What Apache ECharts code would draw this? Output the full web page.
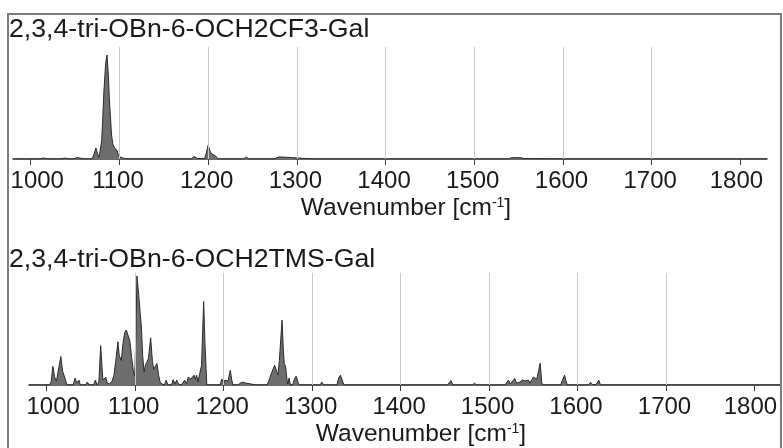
<!DOCTYPE html>
<html>
<head>
<meta charset="utf-8">
<title>Raman spectra</title>
<script src="https://cdn.jsdelivr.net/npm/echarts@6/dist/echarts.min.js"></script>
<style>
  html, body { margin: 0; padding: 0; background: #fff; }
  #chart { width: 783px; height: 448px; }
</style>
</head>
<body>
<div id="chart"></div>
<script>
// Spectrum titles
const titleTop = '2,3,4-tri-OBn-6-OCH2CF3-Gal';
const titleBottom = '2,3,4-tri-OBn-6-OCH2TMS-Gal';

// Axis tick labels and grid positions (cm-1)
const tickValues = [1000, 1100, 1200, 1300, 1400, 1500, 1600, 1700, 1800];
const gridValues = [1100, 1200, 1300, 1400, 1500, 1600, 1700];
const xMin = 980;
const xMax = 1830;

// 2,3,4-tri-OBn-6-OCH2CF3-Gal: wavenumber (cm-1) / intensity (a.u.)
const cf3Wavenumber = [
  980, 1010, 1014, 1016, 1020, 1021, 1023, 1026, 1027, 1029, 1032, 1033, 1035,
  1037, 1038, 1040, 1044, 1046, 1048, 1050, 1052, 1054, 1061, 1063, 1065,
  1069, 1071, 1073.5, 1075, 1077, 1078.5, 1080, 1082.5, 1084.5, 1086, 1087.5,
  1088.5, 1090, 1091, 1092.5, 1094.5, 1097, 1098.5, 1100, 1101, 1103, 1105,
  1107, 1113, 1115, 1117, 1156, 1158, 1160, 1181, 1184, 1186, 1188, 1196,
  1198, 1200, 1202, 1204, 1206, 1208.5, 1211, 1240, 1243, 1246, 1275, 1277,
  1279, 1281, 1283, 1285, 1320, 1322, 1324, 1337, 1339, 1341, 1373, 1375,
  1377, 1422, 1424, 1426, 1467, 1469, 1471, 1495, 1497, 1499, 1521, 1523,
  1525, 1538, 1541, 1544, 1547, 1549, 1551, 1553, 1556, 1558, 1606, 1608,
  1610, 1613, 1615, 1617, 1653, 1655, 1657, 1736, 1738, 1740, 1830
];
const cf3Intensity = [
  0, 0, 1, 0, 0, 1, 0, 0, 1, 0, 0, 1, 0,
  0, 1, 0, 0, 1.5, 0, 0, 1.5, 0, 0, 1, 0,
  0, 4, 11, 6, 1.5, 3, 18, 68, 96, 104, 84,
  62, 40, 25, 15, 11, 9, 5, 2.5, 0.5, 1.2, 1.5,
  0.3, 0, 1, 0, 0, 1, 0, 0, 2.5, 1, 0.5, 0.5,
  6, 14, 8, 5, 4, 3, 0, 0, 2, 0, 0, 1.5,
  2, 1.5, 2, 0, 0, 1, 0, 0, 1, 0, 0, 1,
  0, 0, 0.8, 0, 0, 0.8, 0, 0, 1, 0, 0, 0.8,
  0, 0, 1, 1.5, 1.2, 2, 1.5, 1.8, 0.5, 0, 0, 1.2,
  0, 0, 1.2, 0, 0, 0.8, 0, 0, 0.5, 0, 0
];

// 2,3,4-tri-OBn-6-OCH2TMS-Gal: wavenumber (cm-1) / intensity (a.u.)
const tmsWavenumber = [
  980, 1003, 1005, 1007, 1009, 1011, 1013, 1016, 1018, 1019.5, 1021, 1023,
  1030, 1032, 1034, 1036.5, 1038, 1044, 1046, 1048, 1053, 1055, 1057, 1059,
  1061, 1063.5, 1065, 1066.7, 1068.5, 1071, 1074, 1076, 1078, 1080.5, 1082,
  1084.4, 1086, 1088, 1090, 1092, 1094, 1096, 1098, 1099.5, 1101, 1102, 1104,
  1105.5, 1107, 1108.5, 1110, 1111.5, 1113, 1115, 1117.5, 1119.5, 1121, 1122.5,
  1124.6, 1126.5, 1128.5, 1130, 1133, 1135, 1137, 1141, 1143, 1145, 1147, 1149,
  1150.5, 1152, 1154, 1156, 1158, 1160, 1161.5, 1163, 1164.5, 1166.5, 1168,
  1169.5, 1171, 1173, 1175, 1177.4, 1179, 1181, 1196, 1198, 1200, 1201.5, 1203,
  1205, 1207.5, 1209, 1210.5, 1216, 1219, 1222, 1225, 1227, 1237, 1239, 1241,
  1249, 1251, 1254, 1257.6, 1260, 1261.4, 1263, 1266, 1267.5, 1268.5, 1270,
  1271.5, 1272.5, 1274, 1275.5, 1278, 1280, 1282, 1284, 1285.5, 1291, 1293,
  1295, 1309, 1311, 1313, 1328, 1330, 1332, 1334, 1336, 1425, 1427, 1429, 1449,
  1451, 1453, 1455, 1457, 1459, 1481, 1483.6, 1486, 1490, 1492, 1494, 1518, 1520,
  1522, 1524, 1526, 1529, 1531, 1533, 1535, 1537.5, 1539, 1541, 1543, 1544.6,
  1546, 1548, 1550, 1552, 1554, 1555.5, 1557.8, 1559.5, 1560.5, 1581, 1583,
  1585.3, 1587, 1588.5, 1612, 1614.7, 1617, 1619, 1621, 1624, 1626, 1755, 1757,
  1759, 1830
];
const tmsIntensity = [
  0, 0, 3, 19, 8, 4, 6, 29, 14, 12, 6, 0,
  0, 7, 2, 5, 0, 0, 3, 0, 0, 5, 0, 3,
  40, 5, 4, 8, 2, 1, 4, 10, 24, 44, 30,
  25, 40, 53, 56, 57, 45, 28, 14, 9, 60, 111, 92,
  75, 60, 30, 13, 20, 23, 27, 48, 24, 16, 14,
  22, 10, 2, 0, 0, 5, 0, 0, 5.5, 1, 5, 1,
  3, 0, 0, 5, 1, 8, 10, 6, 7, 10, 6,
  10, 3, 2, 20, 85, 40, 0, 0, 6, 2, 5, 3,
  4, 15, 6, 0, 0, 2, 3, 2, 0, 0, 1.5, 0,
  0, 4, 12, 20, 14, 10, 25, 66, 35, 22, 19,
  6, 1, 7, 0, 0, 6, 9, 3, 0, 0, 1.7,
  0, 0, 3, 0, 0, 7, 10, 5, 0, 0, 0.7, 0, 0,
  1.7, 0, 0.5, 4.5, 0, 0, 1.7, 0, 0, 1.7, 0, 0, 1,
  5, 1, 2, 6.7, 2, 2, 3, 5, 3, 4.3, 3, 5,
  2, 3, 8, 9.3, 6, 5, 22.3, 3, 0, 0, 5,
  10, 4, 0, 0, 2.7, 0.5, 1, 0.5, 5, 0, 0, 1,
  0, 0
];

const FONT = "'Liberation Sans', Arial, sans-serif";
const TEXT = '#1a1a1a';
const pair = (xs, ys) => xs.map((x, i) => [x, ys[i]]);

// End labels sit slightly inward from their ticks
function tickLabel(v) {
  if (v === tickValues[0]) return '{first|' + v + '}';
  if (v === tickValues[tickValues.length - 1]) return '{last|' + v + '}';
  return '{mid|' + v + '}';
}

function xAxisFor(gridIndex) {
  const labelFont = { fontFamily: FONT, fontSize: 24, color: TEXT };
  return {
    gridIndex,
    type: 'value',
    min: xMin,
    max: xMax,
    name: '{t|Wavenumber [cm}{s|-1}{t|]}',
    nameLocation: 'middle',
    nameGap: 37,
    nameTextStyle: {
      padding: [0, 0, 0, 32],
      rich: {
        t: { fontFamily: FONT, fontSize: 24.5, color: TEXT },
        s: { fontFamily: FONT, fontSize: 14, color: TEXT, verticalAlign: 'top' }
      }
    },
    axisLine: { show: true, onZero: false, lineStyle: { color: '#3a3a3a', width: 1.5 } },
    axisTick: { show: true, length: 6, customValues: tickValues, lineStyle: { color: '#3a3a3a', width: 1 } },
    axisLabel: {
      show: true, customValues: tickValues, margin: 10,
      formatter: tickLabel,
      fontFamily: FONT, fontSize: 24, color: TEXT,
      rich: {
        first: Object.assign({ padding: [0, 0, 0, 13] }, labelFont),
        last: Object.assign({ padding: [0, 8, 0, 0] }, labelFont),
        mid: Object.assign({ padding: [0, 0, 0, -3] }, labelFont)
      }
    },
    splitLine: { show: false }
  };
}

function yAxisFor(gridIndex, max) {
  return {
    gridIndex, type: 'value', min: 0, max,
    show: false, splitLine: { show: false }
  };
}

function gridLines(xAxisIndex) {
  return {
    type: 'line', xAxisIndex, yAxisIndex: xAxisIndex, z: 1,
    data: [[xMin, 0]], symbol: 'none', lineStyle: { width: 0 },
    silent: true,
    markLine: {
      silent: true, symbol: ['none', 'none'], animation: false,
      label: { show: false },
      lineStyle: { color: '#c9c9c9', type: 'solid', width: 1 },
      data: gridValues.map(v => ({ xAxis: v }))
    }
  };
}

function spectrum(xAxisIndex, data) {
  return {
    type: 'line', xAxisIndex, yAxisIndex: xAxisIndex, z: 3,
    data, symbol: 'none', smooth: false,
    lineStyle: { color: '#2b2b2b', width: 1 },
    areaStyle: { color: '#6e6e6e', opacity: 1 }
  };
}

const chart = echarts.init(document.getElementById('chart'), null, { renderer: 'canvas' });
chart.setOption({
  animation: false,
  backgroundColor: '#ffffff',
  title: [
    { text: titleTop, left: 9, top: 16, padding: 0,
      textStyle: { fontFamily: FONT, fontSize: 26.7, fontWeight: 'normal', color: TEXT } },
    { text: titleBottom, left: 9, top: 246, padding: 0,
      textStyle: { fontFamily: FONT, fontSize: 26.7, fontWeight: 'normal', color: TEXT } }
  ],
  grid: [
    { left: 13, right: 16, top: 47, height: 112 },
    { left: 29, right: 2, top: 273, height: 114 }
  ],
  xAxis: [xAxisFor(0), xAxisFor(1)],
  yAxis: [yAxisFor(0, 112), yAxisFor(1, 114)],
  series: [
    gridLines(0),
    spectrum(0, pair(cf3Wavenumber, cf3Intensity)),
    gridLines(1),
    spectrum(1, pair(tmsWavenumber, tmsIntensity))
  ],
  graphic: [
    { type: 'rect', z: 100, silent: true,
      shape: { x: 8, y: 14, width: 773, height: 460 },
      style: { fill: 'none', stroke: '#7d7d7d', lineWidth: 2 } }
  ]
});
</script>
</body>
</html>
